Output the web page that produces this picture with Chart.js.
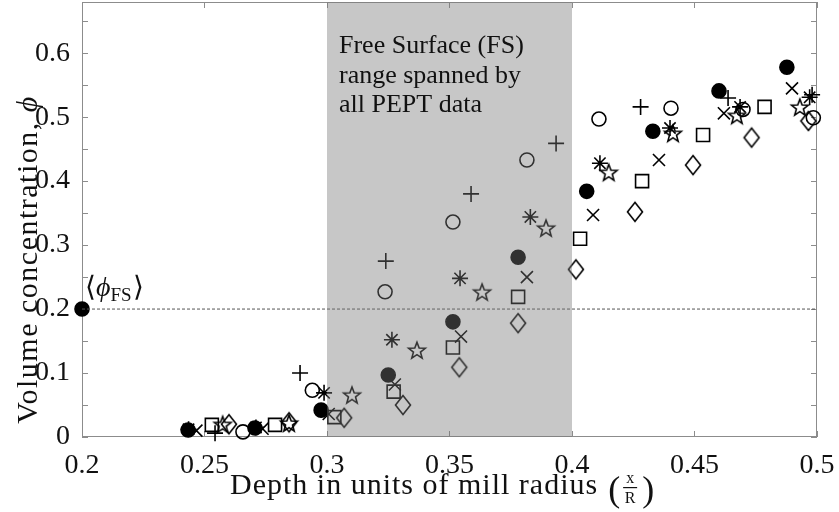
<!DOCTYPE html>
<html>
<head>
<meta charset="utf-8">
<script src="https://cdn.jsdelivr.net/npm/chart.js@4"></script>
<style>
  body { margin: 0; background: #fff; }
  #chart { display: block; }
</style>
</head>
<body>
<canvas id="chart" width="839" height="512"></canvas>
<script>
// depth in units of mill radius (x/R) and volume concentration, one pair per marker set
const filledX = [0.2433, 0.2706, 0.2976, 0.3250, 0.3514, 0.3780, 0.4060, 0.4330, 0.4600, 0.4877];
const filledY = [0.011, 0.014, 0.042, 0.097, 0.180, 0.281, 0.384, 0.478, 0.541, 0.578];

const openX = [0.2657, 0.2940, 0.3237, 0.3514, 0.3816, 0.4110, 0.4404, 0.4698, 0.4985];
const openY = [0.008, 0.073, 0.227, 0.336, 0.433, 0.497, 0.514, 0.512, 0.499];

const plusX = [0.2543, 0.2890, 0.3240, 0.3588, 0.3935, 0.4280, 0.4637, 0.4980];
const plusY = [0.006, 0.100, 0.275, 0.380, 0.459, 0.516, 0.530, 0.535];

const crossX = [0.2467, 0.2737, 0.3007, 0.3277, 0.3547, 0.3816, 0.4086, 0.4355, 0.4620, 0.4898];
const crossY = [0.010, 0.013, 0.036, 0.082, 0.157, 0.250, 0.347, 0.433, 0.506, 0.545];

const asteriskX = [0.2435, 0.2710, 0.2988, 0.3265, 0.3543, 0.3830, 0.4114, 0.4400, 0.4686, 0.4970];
const asteriskY = [0.012, 0.015, 0.069, 0.152, 0.248, 0.344, 0.428, 0.483, 0.516, 0.531];

const starX = [0.2574, 0.2845, 0.3102, 0.3367, 0.3633, 0.3894, 0.4150, 0.4412, 0.4673, 0.4930];
const starY = [0.020, 0.022, 0.066, 0.136, 0.227, 0.327, 0.414, 0.475, 0.503, 0.516];

const squareX = [0.2530, 0.2788, 0.3030, 0.3272, 0.3514, 0.3780, 0.4033, 0.4286, 0.4535, 0.4786];
const squareY = [0.019, 0.019, 0.031, 0.071, 0.140, 0.219, 0.310, 0.400, 0.472, 0.516];

const diamondX = [0.2600, 0.2845, 0.3070, 0.3310, 0.3540, 0.3780, 0.4016, 0.4257, 0.4494, 0.4733, 0.4965];
const diamondY = [0.020, 0.023, 0.030, 0.050, 0.109, 0.178, 0.262, 0.352, 0.425, 0.468, 0.494];

// mean free-surface concentration and the depth range of the free surface
const fsMean = 0.2;
const fsRange = [0.3, 0.4];

const xTicks = ['0.2', '0.25', '0.3', '0.35', '0.4', '0.45', '0.5'];
const yTicks = ['0', '0.1', '0.2', '0.3', '0.4', '0.5', '0.6'];

const SERIF = '"Liberation Serif", "Times New Roman", serif';

function toPoints(xs, ys) {
  return xs.map((v, i) => ({ x: v, y: ys[i] }));
}

function markerCanvas(size, draw) {
  const c = document.createElement('canvas');
  c.width = c.height = size;
  const g = c.getContext('2d');
  g.strokeStyle = '#000';
  g.lineWidth = 1.6;
  draw(g, size / 2);
  return c;
}

const pentagram = markerCanvas(22, (g, m) => {
  g.beginPath();
  for (let i = 0; i < 10; i++) {
    const r = i % 2 ? 3.7 : 8.8;
    const t = -Math.PI / 2 + i * Math.PI / 5;
    g.lineTo(m + r * Math.cos(t), m + 1 + r * Math.sin(t));
  }
  g.closePath();
  g.stroke();
});

const diamond = markerCanvas(24, (g, m) => {
  g.beginPath();
  g.moveTo(m, m - 9.5);
  g.lineTo(m + 7.5, m);
  g.lineTo(m, m + 9.5);
  g.lineTo(m - 7.5, m);
  g.closePath();
  g.stroke();
});

function markerSet(xs, ys, style, radius, filled) {
  return {
    type: 'scatter',
    data: toPoints(xs, ys),
    pointStyle: style,
    pointRadius: radius,
    pointHoverRadius: radius,
    pointBorderColor: '#000',
    pointBackgroundColor: filled ? '#000' : 'rgba(0,0,0,0)',
    pointBorderWidth: 1.6,
    clip: false
  };
}

function drawText(ctx, text, x, y, font, align) {
  ctx.font = font;
  ctx.textAlign = align || 'left';
  ctx.fillText(text, x, y);
  return ctx.measureText(text).width;
}

const figurePlugin = {
  id: 'figure',
  beforeDatasetsDraw(chart) {
    const { ctx, chartArea: a, scales: { x, y } } = chart;
    ctx.save();
    // axes box
    ctx.strokeStyle = '#8c8c8c';
    ctx.lineWidth = 1;
    ctx.strokeRect(a.left + 0.5, a.top + 0.5, a.right - a.left - 1, a.bottom - a.top - 1);
    // inward tick marks every 0.05
    ctx.beginPath();
    for (let v = 0.2; v <= 0.5001; v += 0.05) {
      const px = Math.round(x.getPixelForValue(v)) + 0.5;
      ctx.moveTo(px, a.bottom); ctx.lineTo(px, a.bottom - 6);
      ctx.moveTo(px, a.top); ctx.lineTo(px, a.top + 6);
    }
    for (let v = 0; v <= 0.6501; v += 0.05) {
      const py = Math.round(y.getPixelForValue(v)) + 0.5;
      ctx.moveTo(a.left, py); ctx.lineTo(a.left + 6, py);
      ctx.moveTo(a.right, py); ctx.lineTo(a.right - 6, py);
    }
    ctx.stroke();
    ctx.restore();
  },
  afterDatasetsDraw(chart) {
    const { ctx, chartArea: a, scales: { x, y } } = chart;
    ctx.save();
    // shaded free-surface range, laid over the markers
    const x0 = x.getPixelForValue(fsRange[0]);
    const x1 = x.getPixelForValue(fsRange[1]);
    ctx.fillStyle = 'rgba(120,120,120,0.41)';
    ctx.fillRect(x0, a.top, x1 - x0, a.bottom - a.top);

    ctx.fillStyle = '#111';
    ctx.textBaseline = 'alphabetic';
    const tx = x0 + 12;
    drawText(ctx, 'Free Surface (FS)', tx, 53, '26px ' + SERIF);
    drawText(ctx, 'range spanned by', tx, 83, '26px ' + SERIF);
    drawText(ctx, 'all PEPT data', tx, 112, '26px ' + SERIF);

    // <phi_FS> label next to the mean marker
    const ly = y.getPixelForValue(fsMean) - 13;
    let lx = a.left + 3;
    lx += drawText(ctx, '\u27E8', lx, ly, '28px ' + SERIF);
    lx += drawText(ctx, '\u03D5', lx, ly, 'italic 28px ' + SERIF);
    lx += drawText(ctx, 'FS', lx, ly + 5, '19px ' + SERIF);
    drawText(ctx, '\u27E9', lx + 1, ly, '28px ' + SERIF);
    ctx.restore();
  },
  afterDraw(chart) {
    const { ctx, chartArea: a } = chart;
    ctx.save();
    ctx.fillStyle = '#111';
    ctx.textBaseline = 'alphabetic';

    // x axis title with the x/R fraction
    ctx.letterSpacing = '1px';
    let lx = 230;
    lx += drawText(ctx, 'Depth in units of mill radius', lx, 494, '30px ' + SERIF);
    ctx.letterSpacing = '0px';
    lx += 10;
    lx += drawText(ctx, '(', lx, 501, '36px ' + SERIF);
    const fx = lx + 10;
    drawText(ctx, 'x', fx, 483, '16px ' + SERIF, 'center');
    drawText(ctx, 'R', fx, 503, '16px ' + SERIF, 'center');
    ctx.fillRect(fx - 7, 487, 14, 1.2);
    drawText(ctx, ')', fx + 12, 501, '36px ' + SERIF);

    // y axis title
    ctx.translate(37, (a.top + a.bottom) / 2 + 40);
    ctx.rotate(-Math.PI / 2);
    ctx.letterSpacing = '1.5px';
    ctx.font = '30px ' + SERIF;
    const main = 'Volume concentration, ';
    const w1 = ctx.measureText(main).width;
    ctx.font = 'italic 30px ' + SERIF;
    const w2 = ctx.measureText('\u03D5').width;
    let sx = -(w1 + w2) / 2;
    sx += drawText(ctx, main, sx, 0, '30px ' + SERIF);
    drawText(ctx, '\u03D5', sx, 0, 'italic 30px ' + SERIF);
    ctx.restore();
  }
};

new Chart(document.getElementById('chart').getContext('2d'), {
  data: {
    datasets: [
      {
        type: 'line',
        data: [{ x: 0.2, y: fsMean }, { x: 0.5, y: fsMean }],
        borderColor: '#555',
        borderWidth: 1,
        borderDash: [3, 2],
        pointRadius: 0
      },
      markerSet(diamondX, diamondY, diamond, 10, false),
      markerSet(squareX, squareY, 'rect', 9.2, false),
      markerSet(starX, starY, pentagram, 10, false),
      markerSet(asteriskX, asteriskY, 'star', 8, false),
      markerSet(crossX, crossY, 'crossRot', 8.5, false),
      markerSet(plusX, plusY, 'cross', 8, false),
      markerSet(openX, openY, 'circle', 7, false),
      markerSet(filledX, filledY, 'circle', 7, true),
      markerSet([0.2], [fsMean], 'circle', 7, true)
    ]
  },
  options: {
    responsive: false,
    animation: false,
    events: [],
    layout: { autoPadding: false, padding: { top: 2, right: 22, left: 0, bottom: 0 } },
    plugins: {
      legend: { display: false },
      tooltip: { enabled: false }
    },
    scales: {
      x: {
        type: 'linear',
        min: 0.2,
        max: 0.5,
        grid: { display: false },
        border: { display: false },
        ticks: {
          stepSize: 0.05,
          padding: 4,
          maxRotation: 0,
          autoSkip: false,
          color: '#111',
          font: { family: SERIF, size: 28 },
          callback: v => xTicks.find(t => Math.abs(parseFloat(t) - v) < 1e-6) || ''
        },
        afterFit: s => { s.height = 75; s.paddingLeft = 0; s.paddingRight = 0; }
      },
      y: {
        type: 'linear',
        min: 0,
        max: 0.68,
        grid: { display: false },
        border: { display: false },
        ticks: {
          stepSize: 0.05,
          padding: 4,
          autoSkip: false,
          color: '#111',
          font: { family: SERIF, size: 28 },
          callback: v => yTicks.find(t => Math.abs(parseFloat(t) - v) < 1e-6) || ''
        },
        afterFit: s => { s.width = 82; s.paddingTop = 0; s.paddingBottom = 0; }
      }
    }
  },
  plugins: [figurePlugin]
});
</script>
</body>
</html>
